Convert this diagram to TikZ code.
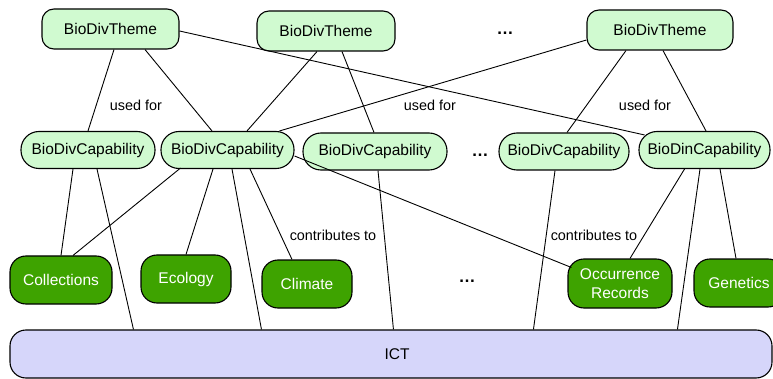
\documentclass[tikz,border=0pt]{standalone}
\usepackage{fontspec}
\setmainfont{Liberation Sans}
\usetikzlibrary{calc}
\definecolor{themefill}{RGB}{208,250,208}
\definecolor{areafill}{RGB}{62,163,0}
\definecolor{ictfill}{RGB}{214,214,250}
\tikzset{
  box/.style={draw=black, line width=1.1pt, inner sep=0pt, align=center, font=\fontsize{15.5}{18.5}\selectfont},
  theme/.style={box, fill=themefill, rounded corners=12pt},
  capab/.style={box, fill=themefill, rounded corners=18pt, minimum height=37pt},
  area/.style={box, fill=areafill, text=white, rounded corners=16pt},
  ict/.style={box, fill=ictfill, rounded corners=16pt},
  lbl/.style={inner sep=0pt, font=\fontsize{14.4}{16}\selectfont},
  gap/.style={inner sep=0pt, anchor=base, font=\bfseries\fontsize{17}{18}\selectfont},
  link/.style={draw=black, line width=0.9pt}
}
\begin{document}
\begin{tikzpicture}[x=1pt,y=-1pt]
\useasboundingbox (0,0) rectangle (773,379);
\begin{scope}
\clip (0,0) rectangle (773,379);

% themes
\node[theme, minimum width=137pt, minimum height=40pt] (t1) at (110.5,29) {BioDivTheme};
\node[theme, minimum width=138pt, minimum height=40pt] (t2) at (326,31) {BioDivTheme};
\node[theme, minimum width=146pt, minimum height=40pt] (t3) at (660,30) {BioDivTheme};
\node[gap] (dt) at (505,35) {…};

% capabilities
\node[capab, minimum width=134pt] (c1) at (88,150) {BioDivCapability};
\node[capab, minimum width=133pt] (c2) at (227.5,150) {BioDivCapability};
\node[capab, minimum width=144pt] (c3) at (375,151.5) {BioDivCapability};
\node[gap] (dc) at (480,157) {…};
\node[capab, minimum width=130pt] (c4) at (564,151.5) {BioDivCapability};
\node[capab, minimum width=131pt] (c5) at (704.5,150) {BioDinCapability};

% areas
\node[area, minimum width=102pt, minimum height=48pt] (a1) at (61,280) {Collections};
\node[area, minimum width=90pt, minimum height=48pt] (a2) at (186,279) {Ecology};
\node[area, minimum width=90pt, minimum height=48pt] (a3) at (307,284) {Climate};
\node[gap] (da) at (467,282) {…};
\node[area, minimum width=104pt, minimum height=49pt] (a4) at (620,283.5) {Occurrence\\Records};
\node[area, minimum width=90pt, minimum height=48pt] (a5) at (739,283) {Genetics};

% infrastructure
\node[ict, minimum width=762pt, minimum height=48pt] (ict) at (391,354) {};
\node[lbl, font=\fontsize{15.5}{17}\selectfont] (ictl) at (397,354) {ICT};

% theme to capability
\draw[link] ($(t1.south)+(3.5,0)$) -- ($(c1.north)+(0,0)$);
\draw[link] ($(t1.south)+(34.5,0)$) -- ($(c2.north)+(-15.5,0)$);
\draw[link] ($(t1.east)+(0,2)$) -- ($(c5.north west)+(6,4)$);
\draw[link] ($(t2.south)+(-9,0)$) -- ($(c2.north)+(19.5,0)$);
\draw[link] ($(t2.south)+(16,0)$) -- ($(c3.north)+(-1,0)$);
\draw[link] ($(t3.west)+(0,10)$) -- ($(c2.north east)+(-15,0)$);
\draw[link] ($(t3.south)+(-34,0)$) -- ($(c4.north)+(3,0)$);
\draw[link] ($(t3.south)+(3,0)$) -- ($(c5.north)+(1.5,0)$);

% capability to area / infrastructure
\draw[link] ($(c1.south)+(-15,0)$) -- (a1.north);
\draw[link] ($(c1.south)+(9,0)$) -- ($(ict.north west)+(124,0)$);
\draw[link] ($(c2.south)+(-47,-1)$) -- ($(a1.north)+(12,0)$);
\draw[link] ($(c2.south)+(-14.5,0)$) -- (a2.north);
\draw[link] ($(c2.south)+(4.5,0)$) -- ($(ict.north west)+(252,0)$);
\draw[link] ($(c2.south)+(22.5,0)$) -- ($(a3.north)+(-15,0)$);
\draw[link] ($(c2.east)+(0,6)$) -- ($(a4.west)+(4,-16)$);
\draw[link] ($(c3.south)+(3,0)$) -- ($(ict.north west)+(384,0)$);
\draw[link] ($(c4.south)+(-9,0)$) -- ($(ict.north west)+(524,0)$);
\draw[link] ($(c5.south)+(-20,0)$) -- ($(a4.north)+(10,0)$);
\draw[link] ($(c5.south)+(-4.5,0)$) -- ($(ict.north west)+(668,0)$);
\draw[link] ($(c5.south)+(15.5,0)$) -- ($(a5.north)+(-3,0)$);

% relation labels
\node[lbl] (u1) at (136,105) {used for};
\node[lbl] (u2) at (430,105) {used for};
\node[lbl] (u3) at (645,105) {used for};
\node[lbl] (k1) at (333,235) {contributes to};
\node[lbl] (k2) at (594,235) {contributes to};
\end{scope}
\end{tikzpicture}
\end{document}
